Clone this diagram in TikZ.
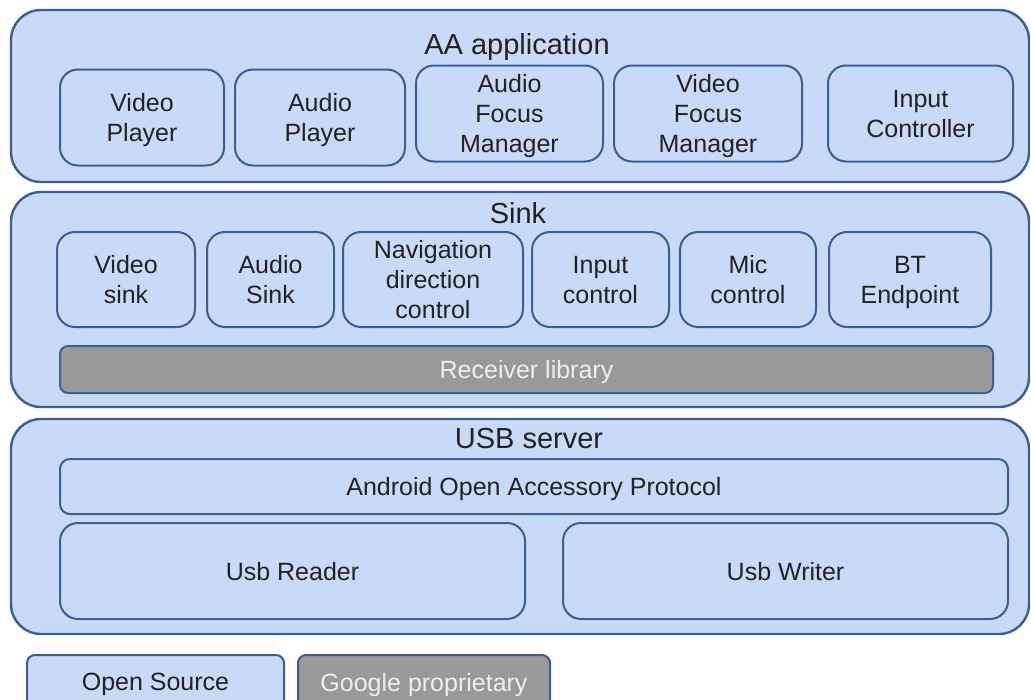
\documentclass[tikz,border=0pt]{standalone}
\usepackage{fontspec}
\setmainfont{Liberation Sans}
\usetikzlibrary{positioning}
\definecolor{layerfill}{HTML}{C9DAF8}
\definecolor{layeredge}{HTML}{3A5E96}
\definecolor{propfill}{HTML}{999999}
\definecolor{proptext}{HTML}{EEEEEE}
\definecolor{inktext}{HTML}{222222}

\begin{document}
\begin{tikzpicture}[x=1pt, y=-1pt,
      layer/.style = {draw=layeredge, fill=layerfill, line width=2.4pt,
                      rounded corners=30pt, minimum width=1018pt,
                      inner sep=0pt, node contents={}},
      title/.style = {font=\fontsize{29}{32}\selectfont, text=inktext,
                      inner sep=0pt, text depth=0pt},
     module/.style = {draw=layeredge, fill=layerfill, line width=2pt,
                      rounded corners=18pt, align=center, inner sep=0pt,
                      minimum height=96pt, text=inktext, text depth=0pt,
                      font=\fontsize{25}{30}\selectfont},
        bar/.style = {module, rounded corners=10pt},
       prop/.style = {bar, fill=propfill, text=proptext, rounded corners=8pt},
                    ]
  \useasboundingbox (0,0) rectangle (1031,699);
  \clip (0,0) rectangle (1031,699);
  % layers
  \node (app)  at (520,96)    [layer, minimum height=172pt];
  \node (sink) at (520,299.5) [layer, minimum height=215pt];
  \node (usb)  at (520,526.5) [layer, minimum height=215pt];
  \node (apptitle)  at (517,44)  [title] {AA application};
  \node (sinktitle) at (518,213) [title] {Sink};
  \node (usbtitle)  at (529,438) [title] {USB server};
  % AA application
  \node (vplayer) at (142,117.5) [module, minimum width=164pt] {Video\\Player};
  \node (aplayer) at (320,117.5) [module, minimum width=170pt] {Audio\\Player};
  \node (afocus)  at (509.5,113.5) [module, minimum width=187pt] {Audio\\Focus\\Manager};
  \node (vfocus)  at (708,113.5) [module, minimum width=188pt] {Video\\Focus\\Manager};
  \node (inputc)  at (920.5,113.5) [module, minimum width=185pt] {Input\\Controller};
  % Sink
  \node (vsink)   at (126,279.5)   [module, minimum width=138pt, minimum height=95pt] {Video\\sink};
  \node (asink)   at (270.5,279.5) [module, minimum width=127pt, minimum height=95pt] {Audio\\Sink};
  \node (navctl)  at (433,279.5)   [module, minimum width=180pt, minimum height=95pt] {Navigation\\direction\\control};
  \node (inctl)   at (600.5,279.5) [module, minimum width=137pt, minimum height=95pt] {Input\\control};
  \node (micctl)  at (748,279.5)   [module, minimum width=136pt, minimum height=95pt] {Mic\\control};
  \node (btend)   at (910,279.5)   [module, minimum width=162pt, minimum height=95pt] {BT\\Endpoint};
  \node (recvlib) at (526.5,369.5) [prop, minimum width=933pt, minimum height=47pt] {Receiver library};
  % USB server
  \node (aoap)   at (534,486.5) [bar, minimum width=948pt, minimum height=55pt] {Android Open Accessory Protocol};
  \node (reader) at (292.5,571) [module, minimum width=465pt] {Usb Reader};
  \node (writer) at (785.5,571) [module, minimum width=445pt] {Usb Writer};
  % legend
  \node (opensrc) at (155.5,682) [bar, rounded corners=8pt, minimum width=257pt, minimum height=54pt] {Open Source};
  \node (gprop)   at (424,682)   [prop, minimum width=252pt, minimum height=54pt] {Google proprietary};
\end{tikzpicture}
\end{document}
